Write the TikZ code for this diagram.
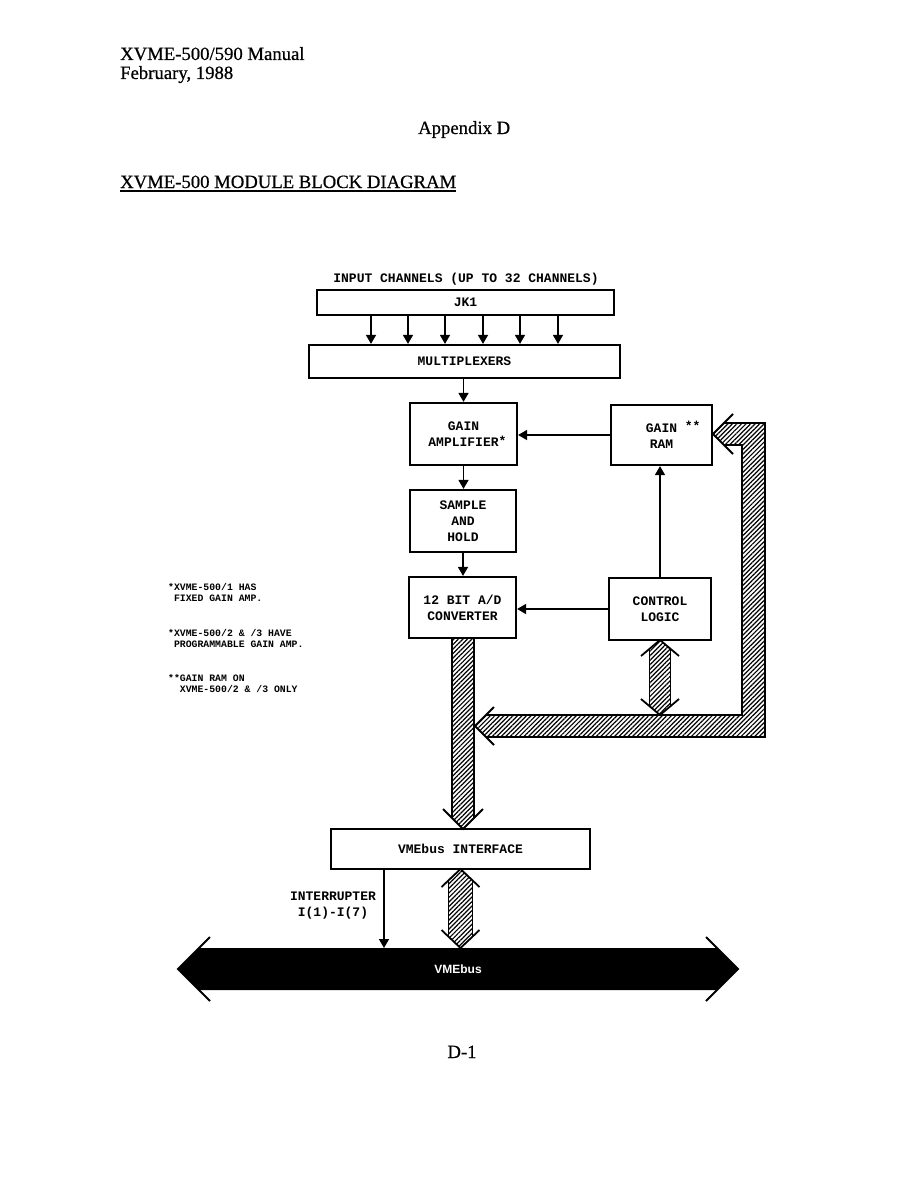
\documentclass[tikz,border=0pt]{standalone}
\usepackage{fontspec}
\setmainfont{Liberation Serif}[FakeBold=0.6]
\newfontfamily\dgmfont{Liberation Mono}
\newfontfamily\busfont{Liberation Sans}
\usetikzlibrary{arrows.meta,patterns.meta,calc}
\begin{document}
\begin{tikzpicture}[x=1pt,y=-1pt,
  box/.style={draw, line width=2.2pt, inner sep=0pt, font=\dgmfont\bfseries\fontsize{13}{16}\selectfont, align=center},
  lbl/.style={inner sep=0pt, font=\dgmfont\bfseries\fontsize{13}{16}\selectfont, align=center},
  note/.style={inner sep=0pt, anchor=base west, font=\dgmfont\bfseries\fontsize{9.8}{11}\selectfont},
  hdr/.style={inner sep=0pt, anchor=base west, font=\fontsize{18.7}{22}\selectfont},
  arr/.style={line width=1.5pt, -{Triangle[length=9pt,width=10pt]}},
  hatch/.style={pattern={Lines[angle=45,distance=3.2pt,line width=1.2pt]}},
  hline/.style={line width=1.8pt},
]
\fill[white] (0,0) rectangle (918,1188);
\useasboundingbox (0,0) rectangle (918,1188);

% header
\node[hdr] (h1) at (120,60) {XVME-500/590 Manual};
\node[hdr] (h2) at (120,79) {February, 1988};
\node[hdr] (h3) at (418,134) {Appendix D};
\node[hdr] (title) at (120,188) {XVME-500 MODULE BLOCK DIAGRAM};
\draw[line width=1.3pt] ([yshift=-3pt]title.base west) -- ([yshift=-3pt]title.base east);
\node[hdr, anchor=base] (page) at (462,1058) {D-1};

% boxes
\node[box, minimum width=297pt, minimum height=25pt] (jk1) at (465.5,302.5) {JK1};
\node[box, minimum width=311pt, minimum height=33pt] (mux) at (464.5,361.5) {MULTIPLEXERS};
\node[box, minimum width=107pt, minimum height=62pt] (amp) at (463.5,434) {GAIN\\AMPLIFIER\rlap{\raisebox{1pt}{*}}};
\node[box, minimum width=106pt, minimum height=62pt] (sh) at (463,521) {SAMPLE\\AND\\HOLD};
\node[box, minimum width=107pt, minimum height=61pt] (adc) at (462.5,607.5) {12 BIT A/D\\CONVERTER};
\node[box, minimum width=101pt, minimum height=60pt] (ram) at (661.5,435) {GAIN\rlap{\raisebox{2pt}{ **}}\\RAM};
\node[box, minimum width=102pt, minimum height=62pt] (ctl) at (660,609) {CONTROL\\LOGIC};
\node[box, minimum width=259pt, minimum height=40pt] (vif) at (460.5,849) {VMEbus INTERFACE};

\node[lbl, anchor=base] (inp) at (466,282) {INPUT CHANNELS (UP TO 32 CHANNELS)};
\node[lbl] (intr) at (333,906) {INTERRUPTER\\I(1)-I(7)};

% notes
\node[note] (n1) at (168,590) {*XVME-500/1 HAS};
\node[note] (n2) at (168,601) {\ FIXED GAIN AMP.};
\node[note] (n3) at (168,636) {*XVME-500/2 \& /3 HAVE};
\node[note] (n4) at (168,647) {\ PROGRAMMABLE GAIN AMP.};
\node[note] (n5) at (168,681) {**GAIN RAM ON};
\node[note] (n6) at (168,692) {\ \ XVME-500/2 \& /3 ONLY};

% thin arrows
\foreach \x in {371,408,445,483,520,558}{
  \coordinate (t) at (\x,0);
  \draw[arr] (jk1.south -| t) -- (mux.north -| t);
}
\draw[arr] (mux.south -| amp.north) -- (amp.north);
\draw[arr] (amp.south) -- (amp.south |- sh.north);
\draw[arr] (sh.south) -- (sh.south |- adc.north);
\draw[arr] (ram.west) -- (ram.west -| amp.east);
\draw[arr] (ctl.north) -- (ctl.north |- ram.south);
\draw[arr] (ctl.west) -- (ctl.west -| adc.east);

% VMEbus
\coordinate (bustop) at (0,948);
\fill[black] (178,969) -- (199,948) -- (717,948) -- (738,969) -- (717,990) -- (199,990) -- cycle;
\draw[hline] (210,937) -- (178,969) -- (210,1001);
\draw[hline] (706,937) -- (738,969) -- (706,1001);
\node[font=\busfont\bfseries\fontsize{12}{14}\selectfont, text=white, inner sep=0pt] (bus) at (458,969) {VMEbus};

\coordinate (ix) at (384,0);
\draw[arr] (vif.south -| ix) -- (bustop -| ix);

% hatched bus from A/D down to interface
\fill[hatch] (452,638) -- (452,818) -- (463,829) -- (474,818) -- (474,638) -- cycle;
\draw[hline] (452,638) -- (452,818);
\draw[hline] (474,638) -- (474,818);
\draw[hline] (443,809) -- (463,829) -- (483,809);

% L-shaped hatched bus
\fill[hatch] (724,423) -- (765,423) -- (765,737) -- (486,737) -- (475,726) -- (486,715) -- (742,715) -- (742,445) -- (724,445) -- (713,434) -- cycle;
\draw[hline] (724,423) -- (765,423) -- (765,737) -- (486,737);
\draw[hline] (486,715) -- (742,715) -- (742,445) -- (724,445);
\draw[hline] (733,414) -- (713,434) -- (733,454);
\draw[hline] (494,707) -- (475,726) -- (494,745);

% double arrow control logic <-> bus
\fill[hatch] (660,640) -- (670.5,648.8) -- (670.5,706.2) -- (660,715) -- (649.5,706.2) -- (649.5,648.8) -- cycle;
\draw[hline] (649.5,648.8) -- (649.5,706.2);
\draw[hline] (670.5,648.8) -- (670.5,706.2);
\draw[hline] (641,656) -- (660,640) -- (679,656);
\draw[hline] (641,699) -- (660,715) -- (679,699);

% double arrow interface <-> VMEbus
\fill[hatch] (460.5,869) -- (472.5,880.4) -- (472.5,936.6) -- (460.5,948) -- (448.5,936.6) -- (448.5,880.4) -- cycle;
\draw[hline] (448.5,880.4) -- (448.5,936.6);
\draw[hline] (472.5,880.4) -- (472.5,936.6);
\draw[hline] (441.5,887) -- (460.5,869) -- (479.5,887);
\draw[hline] (441.5,930) -- (460.5,948) -- (479.5,930);
\end{tikzpicture}
\end{document}
